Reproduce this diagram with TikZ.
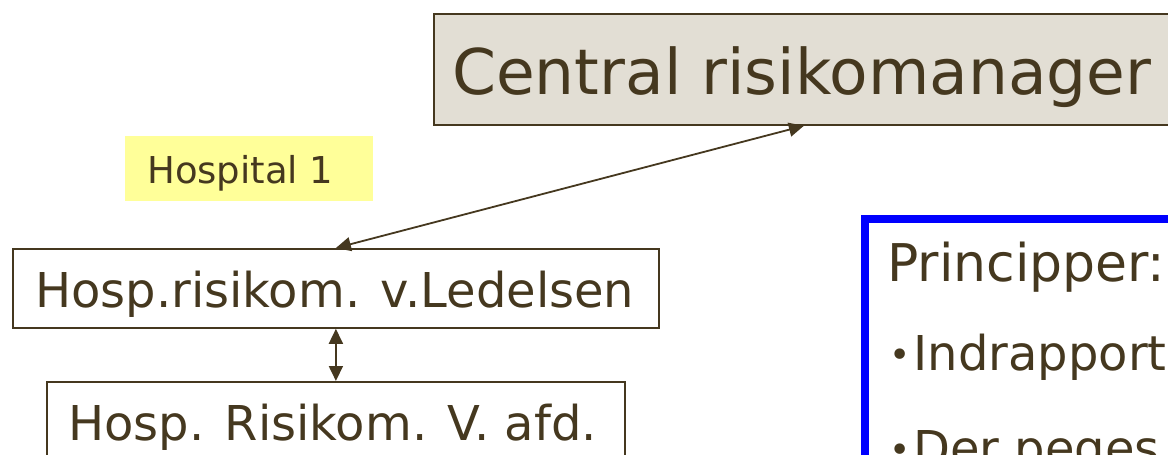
\documentclass[tikz,border=0pt]{standalone}
\usepackage{fontspec}
\setmainfont{DejaVu Sans}
\usetikzlibrary{arrows.meta,calc}
\definecolor{ink}{HTML}{45381F}
\definecolor{beige}{HTML}{E2DED4}
\definecolor{hiyellow}{HTML}{FFFF99}
\definecolor{frameblue}{HTML}{0000FF}
\tikzset{
  boxline/.style={draw=ink, line width=1.8pt, inner sep=0pt, anchor=north west},
  txt/.style={text=ink, inner sep=0pt, anchor=base west},
  tip/.style={Triangle[length=15pt,width=14pt]},
  conn/.style={draw=ink, line width=1.8pt, {Triangle[length=15pt,width=14pt]}-{Triangle[length=15pt,width=14pt]}},
}
\newcommand{\smallbullet}{{\fontsize{36}{40}\selectfont\raisebox{3pt}{•}}\hspace{3pt}}
\begin{document}
\begin{tikzpicture}[x=1pt,y=-1pt]
\useasboundingbox (0,0) rectangle (1168,455);
\clip (0,0) rectangle (1168,455);
% central box
\node[boxline, fill=beige, minimum width=740pt, minimum height=111pt] (central) at (433,13) {};
\node[txt, font=\fontsize{63}{70}\selectfont] (centraltxt) at (452,94) {Central risikomanager};
% hospital label
\node[fill=hiyellow, inner sep=0pt, anchor=north west, minimum width=248pt, minimum height=65pt] (hosplabel) at (125,136) {};
\node[txt, font=\fontsize{37}{44}\selectfont] (hosptxt) at (147,183) {Hospital 1};
% box1
\node[boxline, minimum width=646pt, minimum height=79pt] (ledelsen) at (12,248) {};
\node[txt, font=\fontsize{48}{56}\selectfont] (ledelsentxt) at (35,307) {Hosp.risikom. v.Ledelsen};
% box2
\node[boxline, minimum width=578pt, minimum height=150pt] (afd) at (46,381) {};
\node[txt, font=\fontsize{48}{56}\selectfont] (afdtxt) at (68,440) {Hosp. Risikom. V. afd.};
% blue principles box
\node[draw=frameblue, line width=8pt, inner sep=0pt, anchor=north west, minimum width=500pt, minimum height=400pt] (princ) at (861,215) {};
\node[txt, font=\fontsize{52}{60}\selectfont] (p0) at (887,281) {Principper:};
\node[txt, font=\fontsize{48}{56}\selectfont] (p1) at (889,370) {\smallbullet Indrapport};
\node[txt, font=\fontsize{48}{56}\selectfont] (p2) at (889,465) {\smallbullet Der peges};
% connectors
\draw[conn] (central.south) -- (ledelsen.north);
\draw[conn] (ledelsen.south) -- (afd.north);
\end{tikzpicture}
\end{document}
